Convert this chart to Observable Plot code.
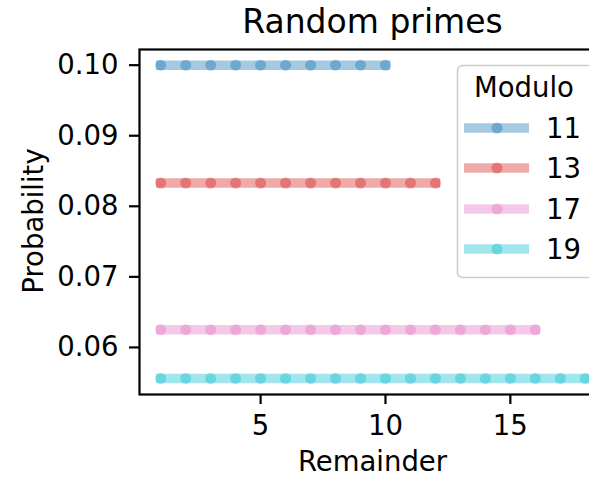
<!DOCTYPE html>
<html>
<head>
<meta charset="utf-8">
<script src="https://cdn.jsdelivr.net/npm/d3@7"></script>
<script src="https://cdn.jsdelivr.net/npm/@observablehq/plot@0.6"></script>
<style>
  html, body { margin: 0; padding: 0; overflow: hidden; background: #fff; }
  #chart { width: 589px; height: 478px; overflow: hidden; }
  #chart svg { max-width: none !important; }
</style>
</head>
<body>
<div id="chart"></div>
<script>
const moduli = ["11", "13", "17", "19"];
const remainders11 = [1, 2, 3, 4, 5, 6, 7, 8, 9, 10];
const remainders13 = [1, 2, 3, 4, 5, 6, 7, 8, 9, 10, 11, 12];
const remainders17 = [1, 2, 3, 4, 5, 6, 7, 8, 9, 10, 11, 12, 13, 14, 15, 16];
const remainders19 = [1, 2, 3, 4, 5, 6, 7, 8, 9, 10, 11, 12, 13, 14, 15, 16, 17, 18];
const probability = [0.1, 0.0833, 0.0625, 0.0556];
const colors = ["#1f77b4", "#d62728", "#e377c2", "#17becf"];
const xTicks = [5, 10, 15];
const yTicks = [0.06, 0.07, 0.08, 0.09, 0.10];

const remainderLists = [remainders11, remainders13, remainders17, remainders19];
const data = [];
moduli.forEach((m, i) => {
  remainderLists[i].forEach(r => data.push({modulo: m, remainder: r, p: probability[i]}));
});

const W = 620, H = 478;
const font = "DejaVu Sans, sans-serif";
const FS = 27.5;

const plot = Plot.plot({
  width: W,
  height: H,
  marginLeft: 139,
  marginRight: 14,
  marginTop: 49,
  marginBottom: 84,
  style: {fontFamily: font, fontSize: FS + "px", background: "#fff", color: "#000", maxWidth: "none"},
  x: {domain: [0.15, 18.85], ticks: xTicks, label: null},
  y: {domain: [0.05333, 0.10222], ticks: yTicks, label: null},
  color: {domain: moduli, range: colors},
  marks: [
    Plot.line(data, {x: "remainder", y: "p", z: "modulo", stroke: "modulo", strokeOpacity: 0.4, strokeWidth: 9.5, strokeLinecap: "square"}),
    Plot.dot(data, {x: "remainder", y: "p", fill: "modulo", fillOpacity: 0.4, r: 5.5, stroke: null}),
    Plot.frame({stroke: "#000", strokeWidth: 2.2}),
    Plot.axisX({ticks: xTicks, tickSize: 10, tickPadding: 11, strokeWidth: 2.2, fontSize: FS, label: null}),
    Plot.axisY({ticks: yTicks, tickSize: 10, tickPadding: 11, strokeWidth: 2.2, fontSize: FS, tickFormat: d3.format(".2f"), label: null})
  ]
});

document.getElementById("chart").appendChild(plot);

// Titles and legend (matplotlib-style) drawn on top of the plot
const svg = d3.select(plot);
const colorScale = plot.scale("color");
const g = svg.append("g").attr("font-family", font).attr("fill", "#000");
g.append("text").attr("x", 372.5).attr("y", 32.5).attr("text-anchor", "middle")
  .attr("font-size", 33).text("Random primes");
g.append("text").attr("x", 372.5).attr("y", 471).attr("text-anchor", "middle")
  .attr("font-size", FS).text("Remainder");
g.append("text").attr("transform", "translate(43,221) rotate(-90)").attr("text-anchor", "middle")
  .attr("font-size", FS).text("Probability");

g.append("rect")
  .attr("x", 457.5).attr("y", 65.5).attr("width", 180).attr("height", 212)
  .attr("rx", 5).attr("fill", "#fff").attr("fill-opacity", 0.8)
  .attr("stroke", "#cccccc").attr("stroke-width", 1.5);
g.append("text").attr("x", 524).attr("y", 97).attr("text-anchor", "middle")
  .attr("font-size", FS).text("Modulo");
const rowY = [128, 168, 209, 249];
moduli.forEach((m, i) => {
  const c = colorScale.apply(m);
  g.append("line").attr("x1", 464).attr("x2", 529).attr("y1", rowY[i]).attr("y2", rowY[i])
    .attr("stroke", c).attr("stroke-opacity", 0.4).attr("stroke-width", 9.5);
  g.append("circle").attr("cx", 497).attr("cy", rowY[i]).attr("r", 5.5)
    .attr("fill", c).attr("fill-opacity", 0.4);
  g.append("text").attr("x", 546).attr("y", rowY[i] + 10).attr("text-anchor", "start")
    .attr("font-size", FS).text(m);
});
</script>
</body>
</html>
